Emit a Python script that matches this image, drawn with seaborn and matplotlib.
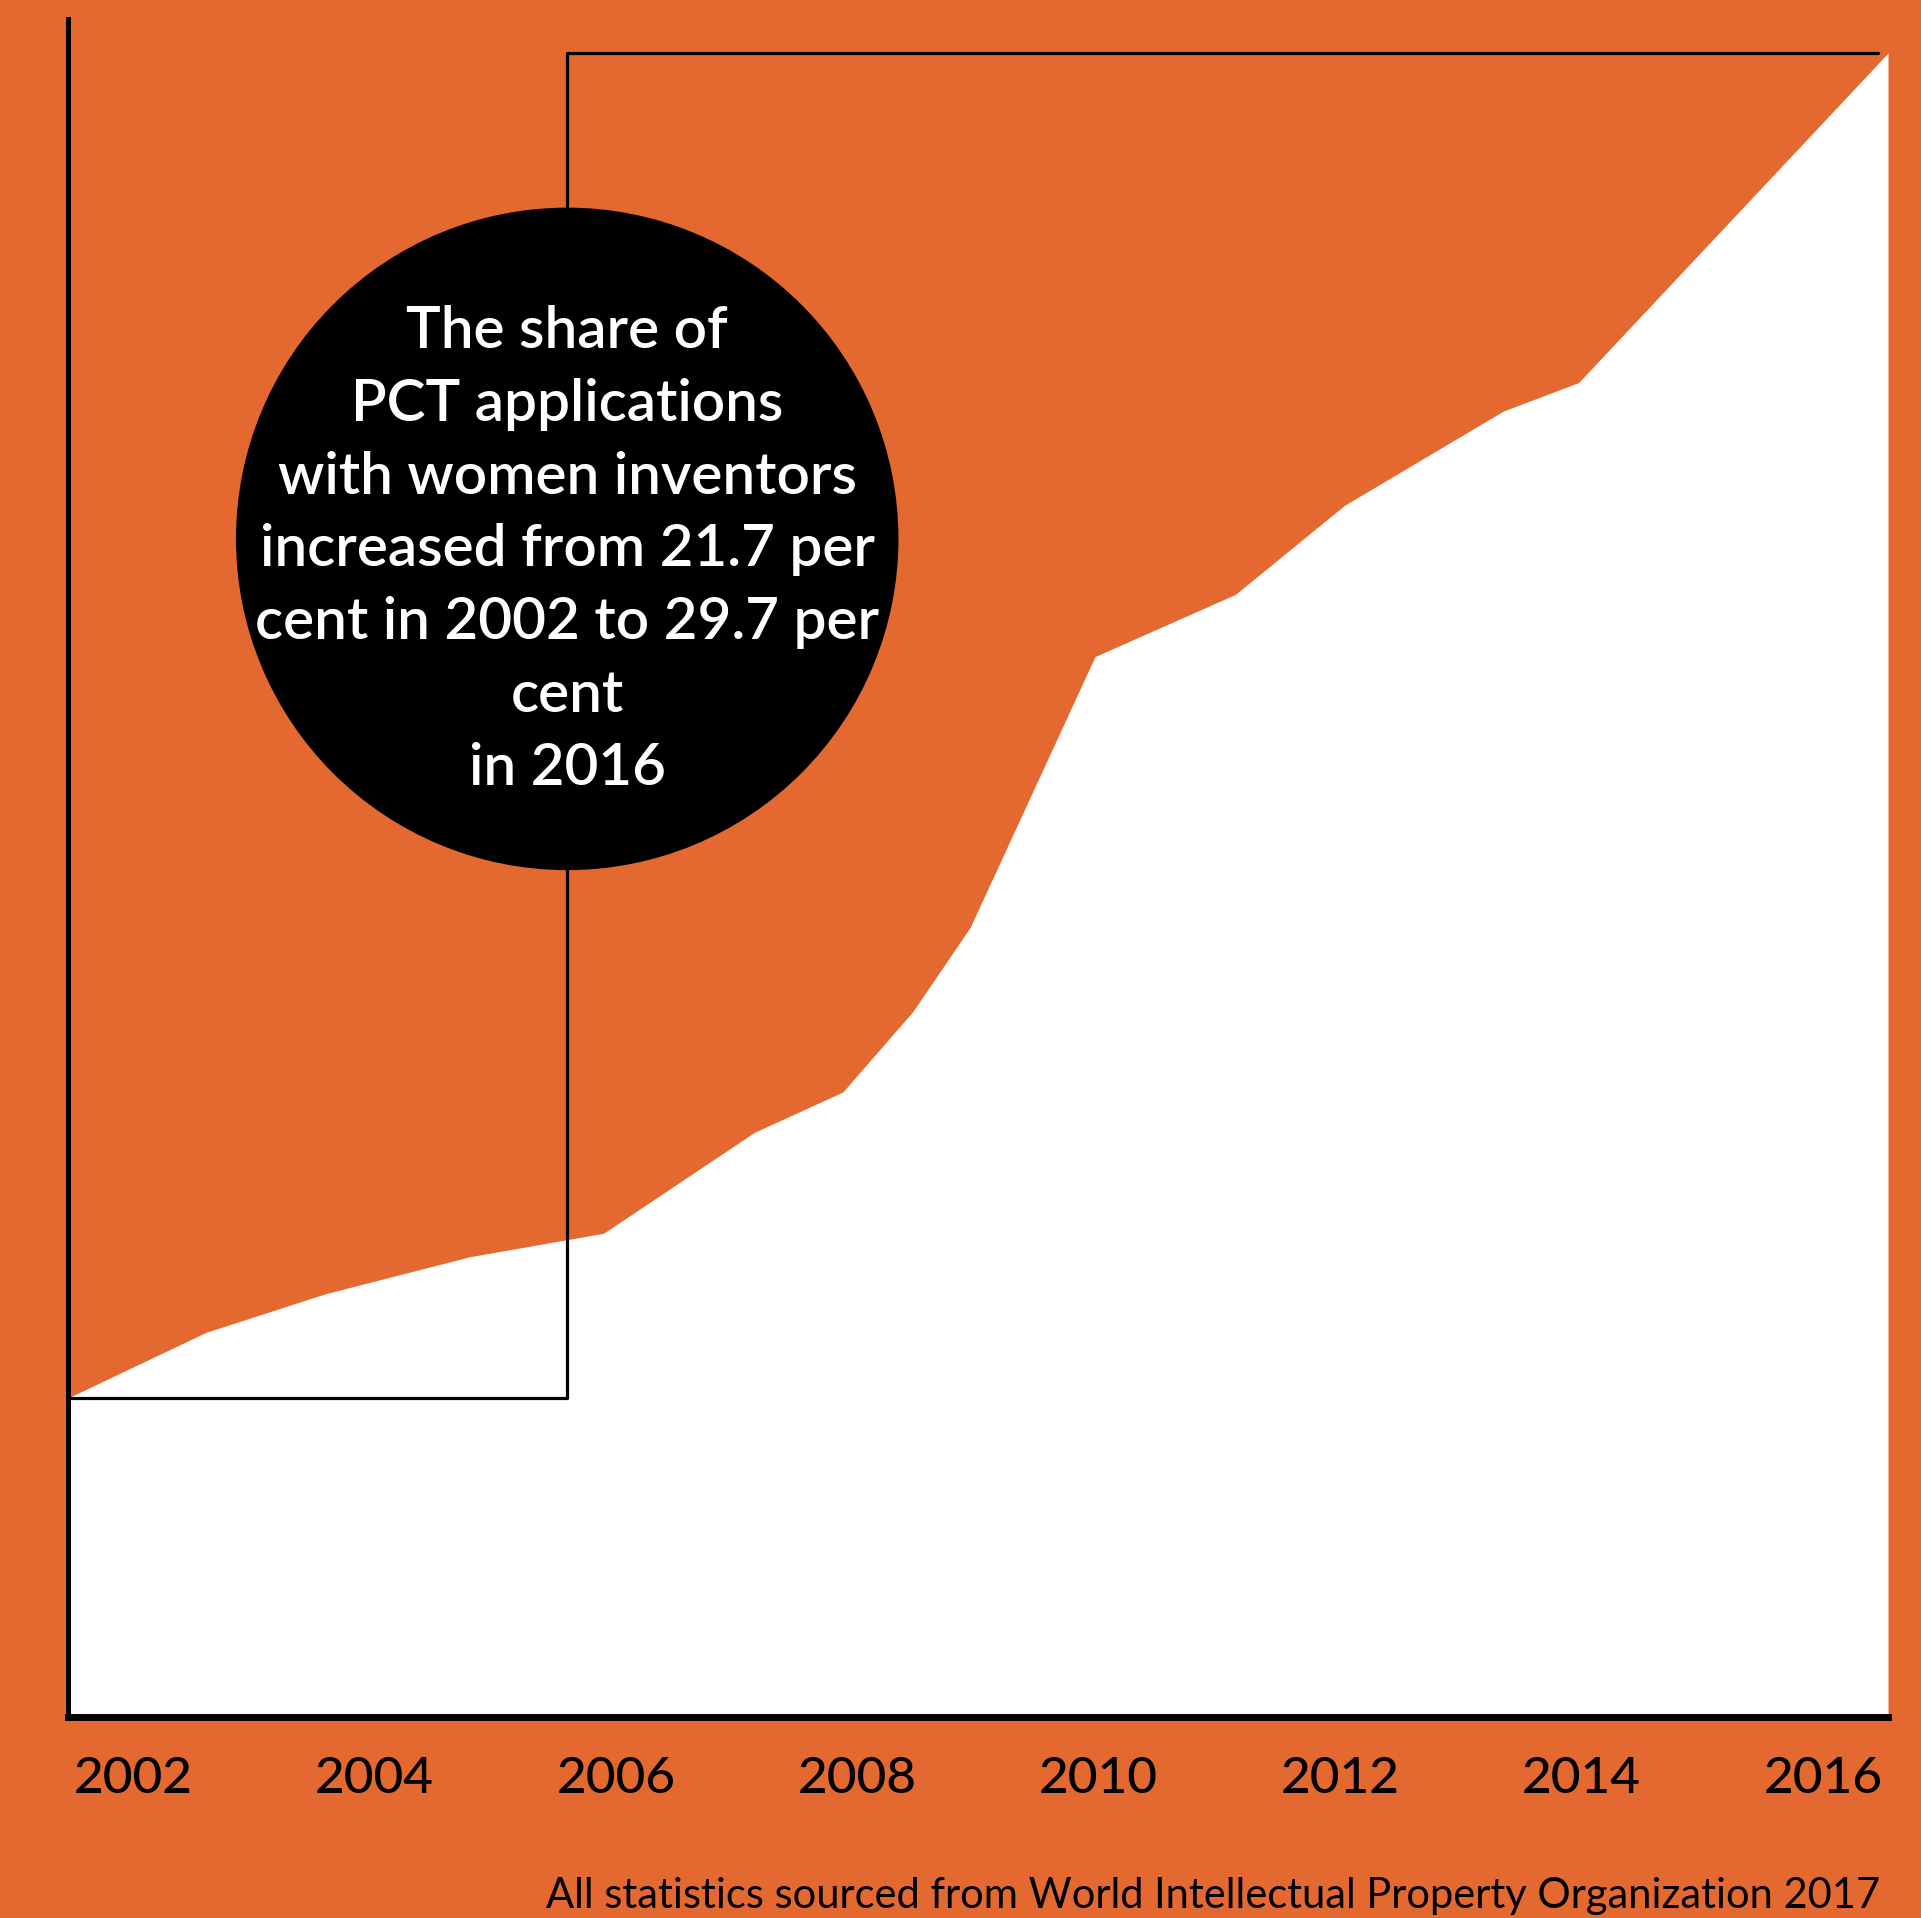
import numpy as np
import pandas as pd
import matplotlib
matplotlib.use("Agg")
import matplotlib.pyplot as plt
import seaborn as sns

# share of PCT applications with women inventors (per cent), one vertex per year,
# x positions as drawn in the original artwork
year_pos = [2002.00, 2003.06, 2003.98, 2005.09, 2006.12, 2007.28, 2007.96, 2008.50,
            2008.94, 2009.90, 2010.98, 2011.82, 2013.04, 2013.62, 2016.00]
share = [21.70, 22.09, 22.32, 22.54, 22.68, 23.28, 23.52, 24.00,
         24.50, 26.11, 26.48, 27.01, 27.57, 27.74, 29.70]

tick_labels = ["2002", "2004", "2006", "2008", "2010", "2012", "2014", "2016"]

note = ("The share of\nPCT applications\nwith women inventors\n"
        "increased from 21.7 per\ncent in 2002 to 29.7 per\ncent\nin 2016")
source = "All statistics sourced from World Intellectual Property Organization 2017"

ORANGE = "#e36930"
note_x = 2005.84      # where the bubble sits
note_y = 26.81

sns.set_style("white")
plt.rcParams["font.family"] = ["Lato", "DejaVu Sans"]

df = pd.DataFrame({"year": year_pos, "share": share})

fig = plt.figure(figsize=(19.21, 19.18), dpi=100, facecolor=ORANGE)
ax = fig.add_axes([68 / 1921, 200.6 / 1918, 1820 / 1921, 1698 / 1918])
ax.set_facecolor(ORANGE)

# white area under the series
ax.fill_between(df["year"], df["share"], 19.8, color="white", lw=0, zorder=1)

# step from the first value to the last one, through the bubble
step = pd.DataFrame({"x": [year_pos[0], note_x, note_x, 2015.92],
                     "y": [share[0], share[0], share[-1], share[-1]]})
sns.lineplot(data=step, x="x", y="y", sort=False, estimator=None,
             color="black", lw=2.3, ax=ax, zorder=3)

# the bubble
sns.scatterplot(x=[note_x], y=[note_y], s=477 ** 2, color="black",
                edgecolor="none", ax=ax, zorder=4)
ax.text(note_x, note_y - 0.065, note, color="white", fontsize=42, fontweight="semibold",
        ha="center", va="center", linespacing=1.46, zorder=5)

ax.set_xlim(2002, 2016)
ax.set_ylim(19.8, 29.9)
ax.set_xticks(np.linspace(2002.5, 2015.5, len(tick_labels)))
ax.set_xticklabels(tick_labels, fontsize=37, color="black", fontweight="medium")
ax.set_yticks([])
ax.tick_params(axis="x", length=0, pad=28)
ax.set_xlabel("")
ax.set_ylabel("")

for side in ["top", "right"]:
    ax.spines[side].set_visible(False)
ax.spines["left"].set_color("black")
ax.spines["left"].set_linewidth(3.6)
ax.spines["bottom"].set_color("black")
ax.spines["bottom"].set_linewidth(5)
ax.spines["left"].set_zorder(6)
ax.spines["bottom"].set_zorder(6)

fig.text(1880 / 1921, 10 / 1918, source, fontsize=30, color="black",
         ha="right", va="baseline")

fig.savefig("out.png", dpi=100, facecolor=ORANGE)
